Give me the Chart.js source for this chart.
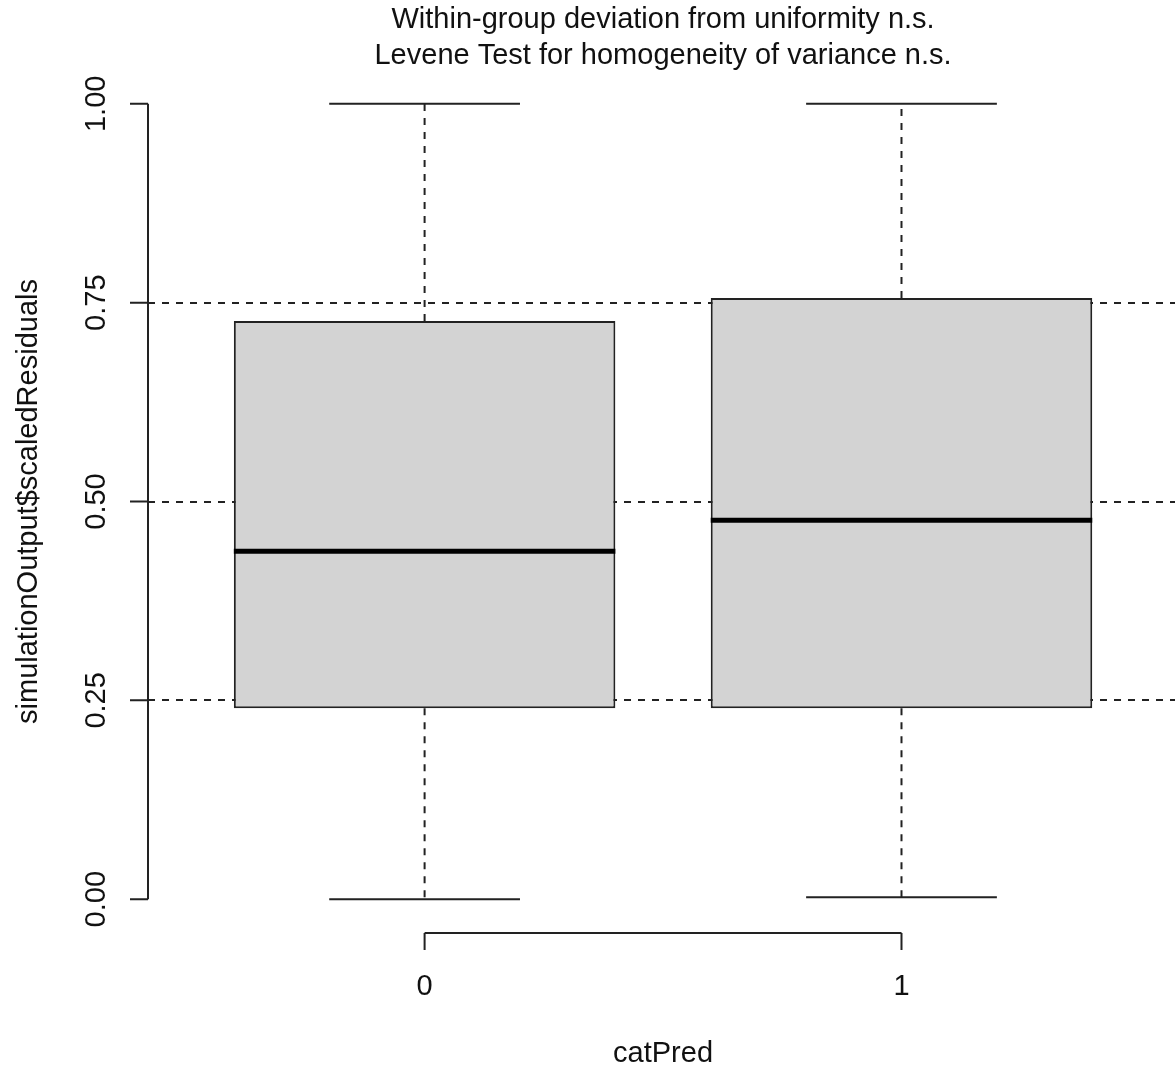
<!DOCTYPE html>
<html>
<head>
<meta charset="utf-8">
<script src="https://cdn.jsdelivr.net/npm/chart.js@4"></script>
<style>
  body { margin: 0; background: #fff; }
  #wrap { width: 1175px; height: 1070px; position: relative; }
</style>
</head>
<body>
<div id="wrap"><canvas id="chart-canvas"></canvas></div>
<script>
// values
const categories = ['0', '1'];
const whiskerLow = [0.0, 0.0025];
const quartile1 = [0.24, 0.24];
const medians = [0.4375, 0.4765];
const quartile3 = [0.727, 0.756];
const whiskerHigh = [1.0, 1.0];
const yTicks = [0, 0.25, 0.5, 0.75, 1];
const yTickLabels = ['0.00', '0.25', '0.50', '0.75', '1.00'];
const refLines = [0.25, 0.5, 0.75];
const titleLines = ['Within-group deviation from uniformity n.s.', 'Levene Test for homogeneity of variance n.s.'];
const xTitle = 'catPred';
const yTitle = 'simulationOutput$scaledResiduals';

const FONT = '"Liberation Sans", Arial, sans-serif';
const INK = '#222';

const ctx = document.getElementById('chart-canvas');

const boxExtras = {
  id: 'boxExtras',
  afterDatasetsDraw(chart) {
    const c = chart.ctx;
    const xs = chart.scales.x, ys = chart.scales.y;
    c.save();
    categories.forEach((cat, i) => {
      const x = xs.getPixelForValue(i + 1);
      // whiskers
      c.strokeStyle = INK;
      c.lineWidth = 2;
      c.setLineDash([7, 7]);
      c.beginPath();
      c.moveTo(x, ys.getPixelForValue(quartile3[i]));
      c.lineTo(x, ys.getPixelForValue(whiskerHigh[i]));
      c.moveTo(x, ys.getPixelForValue(quartile1[i]));
      c.lineTo(x, ys.getPixelForValue(whiskerLow[i]));
      c.stroke();
      c.setLineDash([]);
      // caps
      const cl = xs.getPixelForValue(i + 1 - 0.2), cr = xs.getPixelForValue(i + 1 + 0.2);
      c.beginPath();
      [whiskerHigh[i], whiskerLow[i]].forEach(v => {
        const y = ys.getPixelForValue(v);
        c.moveTo(cl, y);
        c.lineTo(cr, y);
      });
      c.stroke();
      // median
      c.lineWidth = 5;
      c.strokeStyle = '#000';
      const y = ys.getPixelForValue(medians[i]);
      c.beginPath();
      c.moveTo(xs.getPixelForValue(i + 1 - 0.4), y);
      c.lineTo(xs.getPixelForValue(i + 1 + 0.4), y);
      c.stroke();
    });
    c.restore();
  },
  afterDraw(chart) {
    const c = chart.ctx;
    const xs = chart.scales.x, ys = chart.scales.y;
    const area = chart.chartArea;
    c.save();
    c.strokeStyle = INK;
    c.lineWidth = 2;
    c.fillStyle = '#111';
    c.font = '29px ' + FONT;
    // y axis
    const ax = area.left;
    c.beginPath();
    c.moveTo(ax, ys.getPixelForValue(yTicks[0]));
    c.lineTo(ax, ys.getPixelForValue(yTicks[yTicks.length - 1]));
    yTicks.forEach(v => {
      const y = ys.getPixelForValue(v);
      c.moveTo(ax, y);
      c.lineTo(ax - 18, y);
    });
    c.stroke();
    c.textAlign = 'center';
    c.textBaseline = 'middle';
    yTicks.forEach((v, i) => {
      c.save();
      c.translate(97, ys.getPixelForValue(v));
      c.rotate(-Math.PI / 2);
      c.fillText(yTickLabels[i], 0, 0);
      c.restore();
    });
    // x axis
    const ay = area.bottom + 2;
    c.beginPath();
    c.moveTo(xs.getPixelForValue(1), ay);
    c.lineTo(xs.getPixelForValue(categories.length), ay);
    categories.forEach((cat, i) => {
      const x = xs.getPixelForValue(i + 1);
      c.moveTo(x, ay);
      c.lineTo(x, ay + 17);
    });
    c.stroke();
    categories.forEach((cat, i) => {
      c.fillText(cat, xs.getPixelForValue(i + 1), 987);
    });
    // titles
    const mid = (area.left + xs.getPixelForValue(2.58)) / 2;
    c.fillText(xTitle, mid, 1054);
    titleLines.forEach((t, i) => c.fillText(t, mid, 20 + i * 36));
    c.save();
    c.translate(29, (area.top + area.bottom) / 2);
    c.rotate(-Math.PI / 2);
    c.fillText(yTitle, 0, 0);
    c.restore();
    c.restore();
  }
};

new Chart(ctx, {
  type: 'bar',
  data: {
    datasets: [{
      data: categories.map((cat, i) => ({ x: i + 1, y: [quartile1[i], quartile3[i]] })),
      backgroundColor: '#d3d3d3',
      borderColor: INK,
      borderWidth: 2,
      borderSkipped: false,
      barPercentage: 0.8,
      categoryPercentage: 1
    }]
  },
  options: {
    responsive: true,
    maintainAspectRatio: false,
    animation: false,
    layout: { padding: { left: 148, right: 0, top: 72, bottom: 139 } },
    scales: {
      x: {
        type: 'linear',
        min: 0.42,
        max: 2.5735,
        offset: false,
        grid: { offset: false },
        afterBuildTicks: s => { s.ticks = categories.map((cat, i) => ({ value: i + 1 })); },
        display: false
      },
      y: {
        min: -0.04,
        max: 1.04,
        z: 1,
        afterBuildTicks: s => { s.ticks = refLines.map(v => ({ value: v })); },
        afterFit: s => { s.width = 0; },
        ticks: { display: false },
        grid: { color: INK, lineWidth: 2, drawTicks: false },
        border: { display: false, dash: [7, 7] }
      }
    },
    plugins: {
      legend: { display: false },
      tooltip: { enabled: false }
    }
  },
  plugins: [boxExtras]
});
</script>
</body>
</html>
